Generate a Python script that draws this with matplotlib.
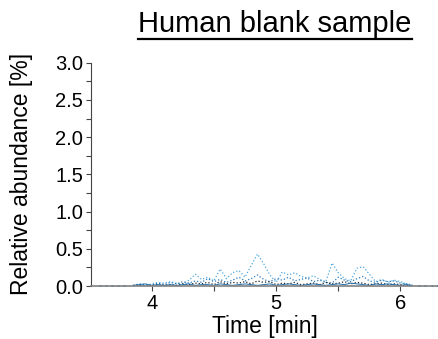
import matplotlib.pyplot as plt
from matplotlib.lines import Line2D

plt.rcParams['font.family'] = ['Liberation Sans', 'DejaVu Sans']

# retention time grid [min]
time_min = [3.85, 3.90, 3.95, 4.00, 4.05, 4.10, 4.15, 4.20, 4.25, 4.30,
            4.35, 4.40, 4.45, 4.50, 4.55, 4.60, 4.65, 4.70, 4.75, 4.80,
            4.85, 4.90, 4.95, 5.00, 5.05, 5.10, 5.15, 5.20, 5.25, 5.30,
            5.35, 5.40, 5.45, 5.50, 5.55, 5.60, 5.65, 5.70, 5.75, 5.80,
            5.85, 5.90, 5.95, 6.00, 6.05, 6.10]

# relative abundance [%] for each trace
trace_light = [0.01, 0.02, 0.01, 0.03, 0.05, 0.04, 0.06, 0.04, 0.03, 0.08,
               0.16, 0.09, 0.12, 0.07, 0.23, 0.10, 0.18, 0.21, 0.12, 0.28,
               0.43, 0.30, 0.15, 0.05, 0.19, 0.15, 0.18, 0.13, 0.11, 0.14,
               0.09, 0.06, 0.31, 0.18, 0.10, 0.07, 0.24, 0.26, 0.16, 0.06,
               0.09, 0.05, 0.08, 0.06, 0.03, 0.01]
trace_mid = [0.01, 0.03, 0.02, 0.01, 0.04, 0.02, 0.05, 0.03, 0.06, 0.04,
             0.07, 0.05, 0.10, 0.06, 0.09, 0.05, 0.08, 0.12, 0.07, 0.10,
             0.15, 0.09, 0.06, 0.10, 0.08, 0.12, 0.07, 0.09, 0.11, 0.06,
             0.08, 0.05, 0.04, 0.12, 0.08, 0.06, 0.10, 0.13, 0.07, 0.05,
             0.08, 0.06, 0.07, 0.04, 0.03, 0.01]
trace_black = [0.00, 0.01, 0.00, 0.01, 0.02, 0.01, 0.02, 0.01, 0.03, 0.02,
               0.04, 0.03, 0.05, 0.02, 0.06, 0.03, 0.05, 0.04, 0.06, 0.03,
               0.07, 0.05, 0.06, 0.02, 0.04, 0.03, 0.05, 0.02, 0.03, 0.04,
               0.02, 0.05, 0.03, 0.04, 0.06, 0.03, 0.05, 0.04, 0.02, 0.03,
               0.04, 0.02, 0.03, 0.02, 0.01, 0.00]
trace_dark = [0.01, 0.02, 0.03, 0.01, 0.02, 0.01, 0.02, 0.01, 0.02, 0.03,
              0.01, 0.02, 0.02, 0.01, 0.03, 0.02, 0.01, 0.02, 0.03, 0.02,
              0.01, 0.02, 0.03, 0.01, 0.02, 0.03, 0.02, 0.01, 0.02, 0.03,
              0.02, 0.01, 0.02, 0.03, 0.02, 0.04, 0.03, 0.02, 0.01, 0.03,
              0.02, 0.03, 0.02, 0.01, 0.02, 0.00]

# sparse baseline points outside the main window
edge_time = [3.58, 3.63, 3.68, 3.73, 3.78, 6.15, 6.20, 6.25, 6.29]
edge_value = [0.005, 0.008, 0.004, 0.006, 0.005, 0.006, 0.004, 0.007, 0.005]

fig = plt.figure(figsize=(4.39, 3.39), dpi=100)
ax = fig.add_axes([0.207, 0.156, 0.793, 0.659])

ax.plot(time_min, trace_light, ls=':', lw=0.9, color='#4fa8e0')
ax.plot(time_min, trace_mid, ls=':', lw=0.9, color='#2b7bbd')
ax.plot(time_min, trace_black, ls=':', lw=0.9, color='#222222')
ax.plot(time_min, trace_dark, ls='-', lw=0.7, color='#1f6fae')
ax.plot(edge_time, edge_value, ls='none', marker='.', ms=1.5, color='#3a8fd0')

ax.set_xlim(3.51, 6.31)
ax.set_ylim(0, 3.0)
ax.set_xticks([4, 5, 6])
ax.set_xticks([4.5, 5.5], minor=True)
ax.set_yticks([0, 0.5, 1.0, 1.5, 2.0, 2.5, 3.0])
ax.set_yticklabels(['0.0', '0.5', '1.0', '1.5', '2.0', '2.5', '3.0'])
ax.set_yticks([0.25, 0.75, 1.25, 1.75, 2.25, 2.75], minor=True)

for s in ['top', 'right']:
    ax.spines[s].set_visible(False)
ax.spines['left'].set_color('#444444')
ax.spines['bottom'].set_color('#808080')
ax.spines['bottom'].set_linewidth(1.2)
ax.tick_params(which='both', direction='out', length=3.5, width=0.8,
               color='#444444', labelsize=14.5, pad=2)

ax.set_xlabel('Time [min]', fontsize=16.5)
ax.set_ylabel('Relative abundance [%]', fontsize=16.5)
ax.xaxis.set_label_coords(0.5, -0.13)
ax.yaxis.set_label_coords(-0.165, 0.5)

title = fig.text(0.626, 0.906, 'Human blank sample', fontsize=21,
                 ha='center', va='baseline')

# underline the title along its rendered width
fig.canvas.draw()
bb = title.get_window_extent().transformed(fig.transFigure.inverted())
fig.add_artist(Line2D([bb.x0, bb.x1], [0.884, 0.884], color='black', lw=1.6))

fig.savefig('out.png', dpi=100)
